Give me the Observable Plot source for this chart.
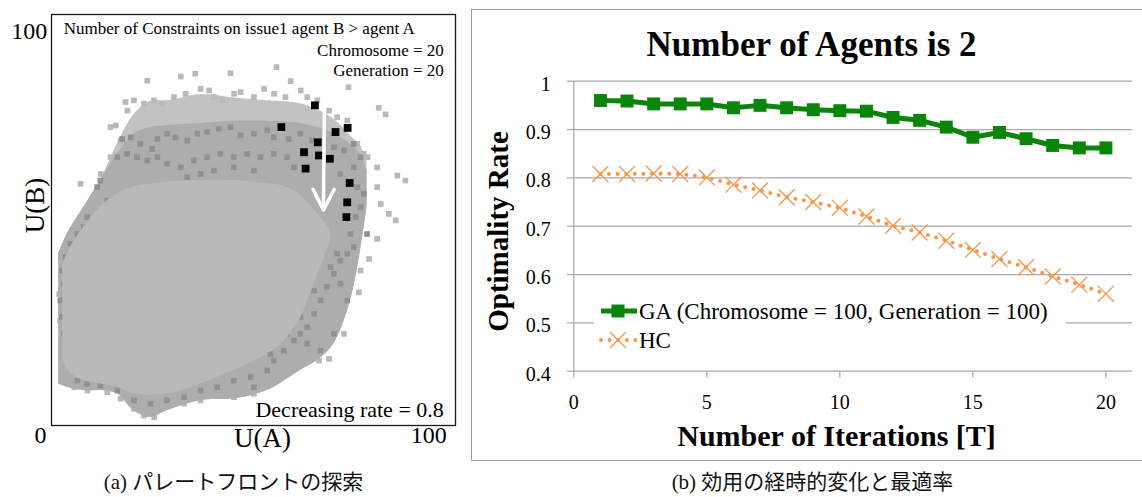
<!DOCTYPE html>
<html><head><meta charset="utf-8">
<script src="https://cdn.jsdelivr.net/npm/d3@7"></script>
<script src="https://cdn.jsdelivr.net/npm/@observablehq/plot@0.6"></script>
<style>
body{margin:0;background:#fff;}
#wrap{position:relative;width:1142px;height:497px;overflow:hidden;background:#fff;}
#left{position:absolute;left:0;top:0;}
#right{position:absolute;left:471px;top:9px;width:690px;height:450px;border:1px solid #9c9c9c;background:#fff;}
.cap{position:absolute;top:469px;width:400px;text-align:center;font-size:21px;font-family:"Liberation Serif","DejaVu Serif","Noto Sans CJK JP";line-height:26px;color:#111;}
svg text{font-family:"Liberation Serif","DejaVu Serif";}
</style></head><body>
<div id="wrap">
  <div id="left"></div>
  <div id="right"></div>
  <div class="cap" id="capA" style="left:33.5px"></div>
  <div class="cap" id="capB" style="left:612.5px"></div>
</div>
<script>
// ---------- Right panel data ----------
const iterations = [1,2,3,4,5,6,7,8,9,10,11,12,13,14,15,16,17,18,19,20];
const gaRate = [0.960,0.959,0.953,0.953,0.953,0.945,0.950,0.945,0.941,0.939,0.938,0.925,0.919,0.905,0.884,0.894,0.881,0.867,0.862,0.862];
const hcRate = [0.808,0.808,0.809,0.808,0.801,0.786,0.774,0.760,0.750,0.738,0.720,0.701,0.687,0.670,0.651,0.632,0.615,0.596,0.579,0.560];
const yTicks = [0.4,0.5,0.6,0.7,0.8,0.9,1];
const yTickLabels = ["0.4","0.5","0.6","0.7","0.8","0.9","1"];
const xTicks = [0,5,10,15,20];
const legendLabels = ["GA (Chromosome = 100, Generation = 100)", "HC"];
const rightTitle = "Number of Agents is 2";
const rightXLabel = "Number of Iterations [T]";
const rightYLabel = "Optimality Rate";

// ---------- Left panel data (U(A), U(B) in 0..100) ----------
const cloudOuter = [[1.8,10.1,41.8],[3.9,9.3,46.6],[8.0,8.5,53.1],[12.1,8.5,59.6],[16.3,7.7,68.5],[20.4,3.6,75.6],[24.5,2.0,78.9],[28.6,3.6,79.0],[36.9,6.1,80.5],[45.1,6.5,79.7],[53.4,8.5,79.0],[61.6,13.4,78.3],[65.8,15.8,76.8],[69.9,19.9,74.5],[74.0,30.4,70.5],[76.5,42.6,68.0],[78.1,53.1,64.5]];
const cloudBand = [[1.8,10.1,41.8],[3.9,9.3,46.6],[8.0,8.5,53.1],[12.1,8.5,59.6],[16.3,7.7,66],[20.4,3.6,71],[24.5,2.0,72.5],[28.6,3.6,73],[36.9,6.1,73.5],[45.1,6.5,74],[53.4,8.5,74],[61.6,13.4,73.5],[65.8,15.8,72.5],[69.9,19.9,71],[74.0,30.4,68.5],[76.5,42.6,66],[78.1,53.1,62]];
const cloudInner = [[2.8,16,39],[4.5,13,43],[8.0,10.9,48.3],[12.1,10.1,53.1],[16.3,9.3,56.4],[20.4,7.7,58.0],[28.6,7.7,59.2],[36.9,10.1,59.6],[45.1,13.4,59.6],[53.4,17.4,58.8],[57.5,20.5,58.2],[61.6,26,56],[64.5,33,53],[66.6,38.5,50.7],[69.1,45,47.4]];
const lightPts = [[23.7,83.9],[32.0,84.9],[35.6,85.6],[44.3,85.7],[55.7,87.2],[59.2,83.8],[73.5,82.3],[81.0,77.3],[82.7,75.7],[18.3,78.7],[20.4,79.1],[22.9,78.3],[25.4,79.1],[27.4,78.3],[30.3,79.9],[33.2,80.7],[36.9,81.9],[39.0,81.5],[40.2,79.9],[42.3,79.1],[45.2,80.7],[46.8,81.1],[50.1,79.9],[52.6,81.9],[55.1,80.7],[57.9,79.9],[61.7,81.5],[63.3,79.9],[65.8,79.1],[68.7,76.6],[70.7,75.0],[73.2,74.2],[75.7,68.5],[77.3,66.1],[78.2,65.3],[80.6,62.8],[85.6,60.8],[87.6,59.6],[80.6,58.0],[81.5,53.9],[83.5,51.5],[85.2,49.9],[80.6,45.4],[78.6,40.5],[76.5,37.7],[74.0,34.5],[76.1,32.4],[72.4,22.3],[68.7,16.2],[66.2,15.8],[63.3,17.4],[60.0,18.2],[57.5,12.6],[53.4,10.1],[50.1,7.7],[45.2,6.9],[41.0,7.7],[36.9,6.1],[32.8,5.3],[25.4,2.0],[22.9,2.4],[20.4,4.1],[17.1,6.5],[13.8,8.1],[8.9,8.5],[5.6,9.3],[2.7,11.8],[2.3,18.2],[2.1,25.5],[1.9,32.0],[2.3,41.0],[3.1,43.4],[5.1,47.4],[7.2,50.7],[7.2,58.8],[12.2,61.2],[14.6,65.3],[17.1,69.3],[14.6,72.6],[15.9,73.0],[18.8,76.6]];
const darkPts = [[17.5,69.7],[19.6,70.1],[22.0,68.5],[24.9,67.3],[26.2,69.7],[28.6,71.0],[30.7,70.1],[33.6,69.3],[36.1,71.0],[38.5,71.4],[41.4,72.2],[44.3,72.6],[46.8,70.6],[50.1,71.0],[53.4,71.8],[55.0,70.1],[58.7,69.7],[61.6,71.0],[64.5,69.3],[16.3,65.3],[18.7,66.1],[21.2,65.3],[23.7,64.5],[26.2,65.3],[28.6,63.7],[32.0,62.8],[35.2,64.5],[38.5,65.3],[41.8,66.1],[45.1,65.3],[48.4,66.1],[51.7,65.3],[55.0,66.1],[58.3,65.3],[60.0,62.8],[33.6,60.4],[36.9,61.2],[40.2,62.0],[45.1,62.8],[50.1,62.0],[69.9,67.7],[72.4,66.9],[74.8,68.5],[76.5,65.3],[71.5,61.2],[74.8,62.8],[75.7,58.0],[77.3,56.4],[78.1,46.6],[76.5,53.1],[75.3,50.7],[8.8,50.7],[8.0,48.3],[6.4,46.6],[4.7,44.2],[3.5,41.0],[2.6,37.7],[3.1,34.5],[2.2,30.4],[2.6,26.4],[3.1,22.3],[3.9,18.2],[4.7,14.2],[6.4,10.9],[8.8,10.1],[12.1,9.7],[16.3,8.5],[11.3,58.0],[12.1,59.6],[13.8,54.7],[20.4,6.1],[24.5,5.3],[28.6,6.1],[32.8,6.9],[36.9,8.5],[41.0,9.3],[45.1,10.9],[49.3,11.8],[53.4,13.4],[55.0,15.8],[50.1,9.3],[54.2,17.4],[57.5,18.2],[60.0,20.7],[61.6,22.3],[63.3,23.9],[65.0,27.2],[66.6,30.4],[68.2,33.7],[69.9,36.9],[71.5,40.1],[73.2,41.8],[74.8,43.4],[74.0,46.6],[59.2,23.9],[61.6,26.4],[58.3,22.3],[62.5,30.4],[65.0,32.8],[69.1,38.5],[70.7,41.8],[63.3,19.9],[66.6,18.2],[69.9,22.3],[73.2,30.4],[71.5,34.5]];
const blackPts = [[65.2,77.9],[56.9,72.6],[70.3,71.4],[73.3,72.4],[65.9,68.9],[62.5,66.5],[68.9,64.9],[73.8,59.0],[62.9,62.5],[73.0,50.7],[66.2,65.7],[73.2,54.3]];
const arrowPath = [{x1:67.6, y1:83.0, x2:67.3, y2:52.4}];
const leftNotes = ["Number of Constraints on issue1 agent B > agent A", "Chromosome = 20", "Generation = 20", "Decreasing rate = 0.8"];
const leftYTick = [100];
const leftXTicks = [0, 100];
const leftXLabel = "U(A)";
const leftYLabel = "U(B)";
const captions = ["(a) パレートフロントの探索", "(b) 効用の経時的変化と最適率"];

const lightGray = "#b9b9b9", haloGray = "#c2c2c2", bandGray = "#adadad", darkGray = "#919191";
const serif = '"Liberation Serif", "DejaVu Serif"';

// ---------- Left plot ----------
const leftPlot = Plot.plot({
  width: 470, height: 460,
  marginLeft: 51, marginRight: 15, marginTop: 14, marginBottom: 35,
  x: {domain: [0, 100], axis: null},
  y: {domain: [0, 100], axis: null},
  style: {fontFamily: serif, background: "white", color: "#000"},
  marks: [
    Plot.area(cloudOuter, {x1: d => d[0], y1: d => d[1], y2: d => d[2], fill: haloGray, curve: "catmull-rom"}),
    Plot.dot(lightPts, {x: d => d[0], y: d => d[1], symbol: "square", r: 3.2, fill: lightGray}),
    Plot.area(cloudBand, {x1: d => d[0], y1: d => d[1], y2: d => d[2], fill: bandGray, curve: "catmull-rom"}),
    Plot.dot(darkPts, {x: d => d[0], y: d => d[1], symbol: "square", r: 3.2, fill: darkGray}),
    Plot.area(cloudInner, {x1: d => d[0], y1: d => d[1], y2: d => d[2], fill: lightGray, curve: "catmull-rom"}),
    Plot.dot(blackPts, {x: d => d[0], y: d => d[1], symbol: "square", r: 4.4, fill: "#000"}),
    Plot.arrow(arrowPath, {x1: "x1", y1: "y1", x2: "x2", y2: "y2", stroke: "white", strokeWidth: 3.5, headLength: 10, headAngle: 54}),
    Plot.text([leftNotes[0]], {text: d => d, frameAnchor: "top-left", textAnchor: "start", lineAnchor: "top", dx: 12.3, dy: 7.2, fontSize: 17}),
    Plot.text([leftNotes[1]], {text: d => d, frameAnchor: "top-right", textAnchor: "end", lineAnchor: "top", dx: -11.7, dy: 29, fontSize: 17}),
    Plot.text([leftNotes[2]], {text: d => d, frameAnchor: "top-right", textAnchor: "end", lineAnchor: "top", dx: -11.7, dy: 49.5, fontSize: 17}),
    Plot.text([leftNotes[3]], {text: d => d, frameAnchor: "bottom-right", textAnchor: "end", lineAnchor: "top", dx: -11.7, dy: -24.6, fontSize: 22}),
    Plot.text(leftYTick, {x: () => 0, y: d => d, text: d => String(d), textAnchor: "end", lineAnchor: "top", dx: -4.3, dy: 7.3, fontSize: 24}),
    Plot.text([leftXTicks[0]], {x: d => d, y: () => 0, text: d => String(d), textAnchor: "middle", lineAnchor: "top", dx: -11, dy: 0, fontSize: 24}),
    Plot.text([leftXTicks[1]], {x: d => d, y: () => 0, text: d => String(d), textAnchor: "middle", lineAnchor: "top", dx: -26.7, dy: 0, fontSize: 24}),
    Plot.text([leftXLabel], {text: d => d, frameAnchor: "bottom", lineAnchor: "top", dx: 9, dy: 2.5, fontSize: 27}),
    Plot.text([leftYLabel], {text: d => d, frameAnchor: "left", rotate: -90, textAnchor: "middle", lineAnchor: "middle", dx: -16, dy: -14.5, fontSize: 27}),
    Plot.frame({stroke: "#1a1a1a", strokeWidth: 1.3})
  ]
});
document.getElementById("left").appendChild(leftPlot);

// ---------- Right plot ----------
const green = "#0a850a", orange = "#f7964a", grid = "#a9a9a9";
const gaData = iterations.map((t, i) => ({t, rate: gaRate[i]}));
const hcData = iterations.map((t, i) => ({t, rate: hcRate[i]}));
const rightPlot = Plot.plot({
  width: 670, height: 450,
  marginLeft: 101.3, marginRight: 10, marginTop: 70.7, marginBottom: 89.3,
  x: {domain: [0, 21]},
  y: {domain: [0.4, 1]},
  style: {fontFamily: serif, fontSize: "20px", background: "white", color: "#000"},
  marks: [
    Plot.gridY(yTicks, {stroke: grid, strokeOpacity: 1, strokeWidth: 1.2}),
    Plot.ruleX([0], {stroke: grid, strokeWidth: 1.2}),
    Plot.axisY(yTicks, {tickSize: 6.5, fill: "none", stroke: grid, strokeWidth: 1.2, label: null}),
    Plot.axisY(yTicks, {tickSize: 6.5, tickPadding: 16.5, stroke: "none", dy: 3, fontSize: 20, label: null,
      tickFormat: d => yTickLabels[yTicks.indexOf(d)]}),
    Plot.axisX(xTicks, {tickSize: 7, tickPadding: 17, stroke: grid, strokeWidth: 1.2, fontSize: 20, label: null}),
    Plot.line(hcData, {x: "t", y: "rate", stroke: orange, strokeWidth: 4, strokeDasharray: "0 8.6", strokeLinecap: "round"}),
    Plot.dot(hcData, {x: "t", y: "rate", symbol: "times", r: 7.3, stroke: orange, strokeWidth: 1.3}),
    Plot.line(gaData, {x: "t", y: "rate", stroke: green, strokeWidth: 5}),
    Plot.dot(gaData, {x: "t", y: "rate", symbol: "square", r: 7.3, fill: green}),
    Plot.text([rightTitle], {text: d => d, frameAnchor: "top", lineAnchor: "top", dx: -41.6, dy: -50.5, fontSize: 35, fontWeight: "bold"}),
    Plot.text([rightXLabel], {text: d => d, frameAnchor: "bottom", lineAnchor: "top", dx: -16.6, dy: 53, fontSize: 30, fontWeight: "bold"}),
    Plot.text([rightYLabel], {text: d => d, frameAnchor: "left", rotate: -90, textAnchor: "middle", lineAnchor: "middle", dx: -75, dy: 5.3, fontSize: 29, fontWeight: "bold"})
  ]
});

// legend (layout in pixels, inside the plot area)
const lg = d3.select(rightPlot).append("g").attr("font-family", serif).attr("font-size", 23).attr("text-anchor", "start");
lg.append("rect").attr("x", 122).attr("y", 287).attr("width", 472).attr("height", 55).attr("fill", "white");
lg.append("line").attr("x1", 129).attr("x2", 165).attr("y1", 301).attr("y2", 301).attr("stroke", green).attr("stroke-width", 5);
lg.append("path").attr("transform", "translate(146,301)").attr("d", d3.symbol(d3.symbolSquare, 7.3 * 7.3 * Math.PI)()).attr("fill", green);
lg.append("text").attr("x", 167).attr("y", 309.3).attr("fill", "#000").text(legendLabels[0]);
lg.append("line").attr("x1", 129).attr("x2", 165).attr("y1", 330).attr("y2", 330).attr("stroke", orange).attr("stroke-width", 4).attr("stroke-dasharray", "0 8.6").attr("stroke-linecap", "round");
lg.append("path").attr("transform", "translate(146,330)").attr("d", d3.symbol(d3.symbolTimes, 7.3 * 7.3 * Math.PI)()).attr("fill", "none").attr("stroke", orange).attr("stroke-width", 1.3);
lg.append("text").attr("x", 167).attr("y", 338.3).attr("fill", "#000").text(legendLabels[1]);

document.getElementById("right").appendChild(rightPlot);

document.getElementById("capA").textContent = captions[0];
document.getElementById("capB").textContent = captions[1];
</script>
</body></html>
